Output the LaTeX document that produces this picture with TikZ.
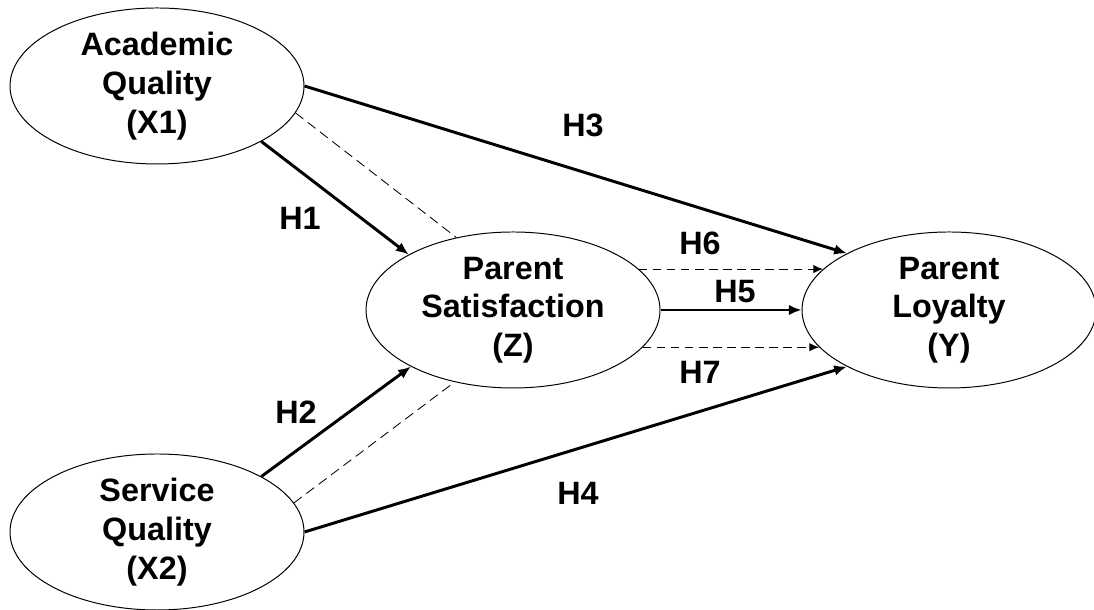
\documentclass[tikz,border=0pt]{standalone}
\usepackage{fontspec}
\setmainfont{Liberation Sans}
\usetikzlibrary{shapes.geometric,arrows.meta}
\begin{document}
\begin{tikzpicture}[x=0.25mm, y=0.25mm,
		latent/.style={draw=black, line width=0.7pt, ellipse, minimum width=7.35cm, minimum height=3.9cm, align=center},
		effect/.style={black, line width=2.1pt, -{Latex[length=9pt,width=7.5pt]}},
		mediation/.style={black, line width=0.6pt, dash pattern=on 7pt off 4pt},
		mediationarrow/.style={black, line width=0.8pt, dash pattern=on 6pt off 4pt, -{Latex[length=7pt,width=6pt]}}]
	\tikzstyle{every node}+=[inner sep=0pt, font=\bfseries\fontsize{23}{27.5}\selectfont]
	\useasboundingbox (0,0) rectangle (1094,610);
	% constructs
	\draw (157,524) node[latent] (aq) {Academic\\Quality\\(X1)};
	\draw (157,78) node[latent] (sq) {Service\\Quality\\(X2)};
	\draw (513,300) node[latent] (ps) {Parent\\Satisfaction\\(Z)};
	\draw (949,300) node[latent] (pl) {Parent\\Loyalty\\(Y)};
	% direct effects
	\draw [effect] (aq.-28) -- (ps.152);
	\draw [effect] (sq.28) -- (ps.209);
	\draw [effect] (aq.0) -- (pl.151);
	\draw [effect] (sq.0) -- (pl.209);
	\draw [effect] (ps.east) -- (pl.west);
	% mediated effects
	\draw [mediation] (aq.-11) -- (ps.128);
	\draw [mediation] (sq.12) -- (ps.231);
	\draw [mediationarrow] (ps.18) -- (pl.162);
	\draw [mediationarrow] (ps.-16.5) -- (pl.196.5);
	% hypotheses
	\draw (300,392) node (h1) {H1};
	\draw (296,198) node (h2) {H2};
	\draw (583,485) node (h3) {H3};
	\draw (578,117) node (h4) {H4};
	\draw (735,318) node (h5) {H5};
	\draw (700,367) node (h6) {H6};
	\draw (700,238) node (h7) {H7};
\end{tikzpicture}
\end{document}
